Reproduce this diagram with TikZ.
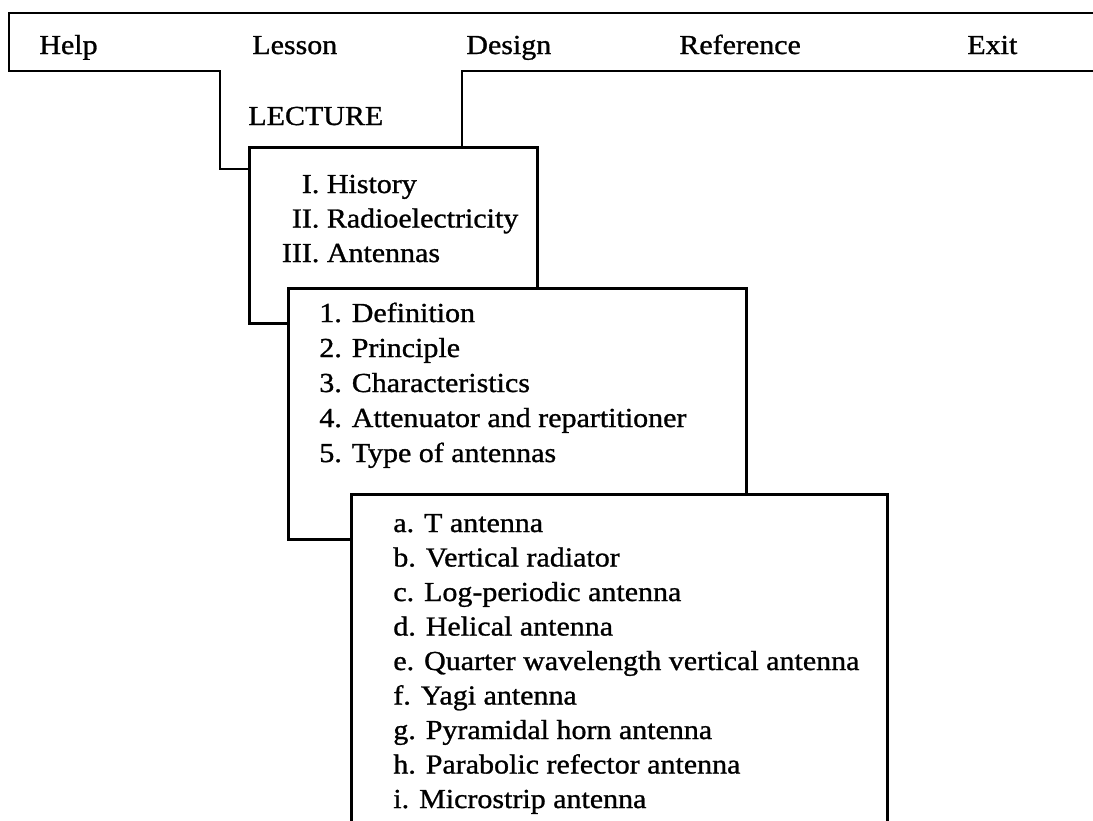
\documentclass[tikz,border=0pt]{standalone}
\usepackage{fontspec}
\setmainfont{Liberation Serif}[FakeStretch=1.09, FakeBold=1.0]
\begin{document}
\begin{tikzpicture}[x=1pt, y=-1pt, line width=2.7pt,
  panel/.style={draw=black, fill=white, anchor=north west, inner sep=0pt, line join=miter},
  item/.style={anchor=base west, inner sep=0pt, font=\fontsize{27.5}{31}\selectfont}]
\useasboundingbox (0,0) rectangle (1093,820);
\begin{scope}
\clip (0,0) rectangle (1093,820);
% menu bar frame with its two steps down to the lecture panel
\coordinate (barTR) at (1100,13);
\coordinate (barBR) at (1100,71);
\draw (barTR) -- (9,13) -- (9,71) -- (220,71) -- (220,169) -- (248,169);
\draw (barBR) -- (462,71) -- (462,146);
% stacked menu panels
\node[panel, minimum width=288pt, minimum height=176pt] (lecture) at (248,146) {};
\node[panel, minimum width=458pt, minimum height=251pt] (topics) at (287,287) {};
\node[panel, minimum width=536pt, minimum height=360pt] (types) at (350,493) {};
\end{scope}
% menu bar labels
\node[item] (help) at (38,54) {Help};
\node[item] (lesson) at (251,54) {Lesson};
\node[item] (design) at (465,54) {Design};
\node[item] (reference) at (678,54) {Reference};
\node[item] (exit) at (966,54) {Exit};
\node[item] (lecttitle) at (247,125) {LECTURE};
% lecture panel entries
\node[item] (l1) at (318,193) {\llap{I.}\ History};
\node[item] (l2) at (318,227.5) {\llap{II.}\ Radioelectricity};
\node[item] (l3) at (318,262) {\llap{III.}\ Antennas};
% antenna topics
\node[item] (t1) at (318,322) {1. Definition};
\node[item] (t2) at (318,357) {2. Principle};
\node[item] (t3) at (318,392) {3. Characteristics};
\node[item] (t4) at (318,427) {4. Attenuator and repartitioner};
\node[item] (t5) at (318,462) {5. Type of antennas};
% antenna types
\node[item] (a1) at (392,532) {a. T antenna};
\node[item] (a2) at (392,566.5) {b. Vertical radiator};
\node[item] (a3) at (392,601) {c. Log-periodic antenna};
\node[item] (a4) at (392,635.5) {d. Helical antenna};
\node[item] (a5) at (392,670) {e. Quarter wavelength vertical antenna};
\node[item] (a6) at (392,704.5) {f. Yagi antenna};
\node[item] (a7) at (392,739) {g. Pyramidal horn antenna};
\node[item] (a8) at (392,773.5) {h. Parabolic refector antenna};
\node[item] (a9) at (392,808) {i. Microstrip antenna};
\end{tikzpicture}
\end{document}
